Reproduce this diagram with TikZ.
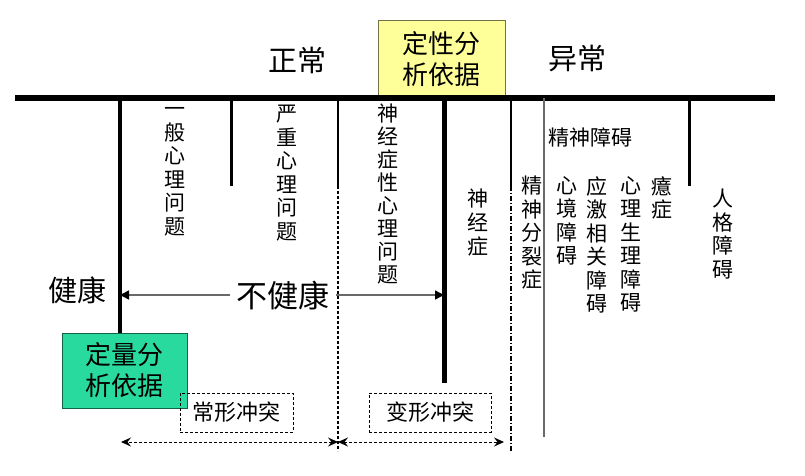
\documentclass[tikz,border=0pt]{standalone}
\usepackage{fontspec}
\setmainfont{Noto Sans CJK SC}
\usetikzlibrary{arrows.meta}
\definecolor{basisyellow}{RGB}{255,255,153}
\definecolor{basisgreen}{RGB}{40,218,158}
\definecolor{arrowgray}{RGB}{105,105,105}

\begin{document}
\begin{tikzpicture}[x=1pt,y=-1pt,
    every node/.style={inner sep=0pt,font=\fontsize{21}{23.5}\selectfont},
    vlabel/.style={align=center,anchor=north},
    bigword/.style={font=\fontsize{29}{31}\selectfont},
    basisbox/.style={draw=#1!45!black,fill=#1,align=center,
      font=\fontsize{26}{31}\selectfont},
    conflictbox/.style={draw,densely dashed,line width=0.8pt,
      minimum height=39pt,font=\fontsize{22}{24}\selectfont},
    spanarrow/.style={densely dashed,line width=0.9pt,
      {Stealth[length=10pt,width=9pt,inset=3.5pt]}-{Stealth[length=10pt,width=9pt,inset=3.5pt]}},
    healtharrow/.style={arrowgray,line width=1.4pt,
      -{Triangle[length=9pt,width=9pt,color=black]}}]
  \useasboundingbox (0,0) rectangle (805,475);

  % scale across the top
  \node[basisbox=basisyellow,minimum width=127pt,minimum height=78pt]
    (qual) at (441.5,59) {定性分\\析依据};
  \coordinate (axisL) at (15,98);
  \coordinate (axisR) at (775,98);
  \draw[line width=6pt] (axisL) -- (axisR);
  \node[bigword] (normal) at (297,60) {正常};
  \node[bigword] (abnormal) at (577,59) {异常};

  % dividers
  \coordinate (healthy) at (120,333);
  \coordinate (neurosis) at (444,383);
  \draw[line width=4.5pt] (healthy |- axisL) -- (healthy);
  \draw[line width=5pt] (neurosis |- axisL) -- (neurosis);
  \foreach \x/\w in {231/3pt,338/2.4pt,511/2.4pt,689/3pt}
    \draw[line width=\w] (\x,98) -- (\x,186);
  \draw[line width=1.2pt,dash pattern=on 2.5pt off 2.5pt] (338,186) -- (338,451);
  \draw[line width=1.2pt,dash pattern=on 5pt off 2pt on 1pt off 2pt] (511,186) -- (511,451);
  \draw[arrowgray,line width=1.6pt] (544,98) -- (544,437);

  % problem labels
  \node[vlabel] (common) at (175,99) {\vphantom{般}一\\般\\心\\理\\问\\题};
  \node[vlabel] (severe) at (287,105) {严\\重\\心\\理\\问\\题};
  \node[vlabel,font=\fontsize{21}{23}\selectfont] (neurotic) at (388,104)
    {神\\经\\症\\性\\心\\理\\问\\题};
  \node[vlabel,font=\fontsize{21}{24}\selectfont] (neur) at (478,189) {神\\经\\症};
  \node (mental) at (590,137) {精神障碍};
  \foreach \x/\txt in {532/精\\神\\分\\裂\\症,567/心\\境\\障\\碍,
      597/应\\激\\相\\关\\障\\碍,631/心\\理\\生\\理\\障\\碍,662/癔\\症}
    \node[vlabel] at (\x,176) {\txt};
  \node[vlabel] (personality) at (723,189) {人\\格\\障\\碍};

  % health range
  \node[bigword] (health) at (77,290) {健康};
  \node[bigword,font=\fontsize{31}{33}\selectfont] (unhealthy) at (283,296) {不健康};
  \draw[healtharrow] ([xshift=-6pt]unhealthy.west |- 0,295) -- (healthy |- 0,295);
  \draw[healtharrow] ([xshift=6pt]unhealthy.east |- 0,295) -- (neurosis |- 0,295);

  \node[basisbox=basisgreen,minimum width=125pt,minimum height=75pt]
    (quant) at (124.5,370.5) {定量分\\析依据};

  % conflicts
  \node[conflictbox,minimum width=113pt] (normconf) at (236.5,412.5) {常形冲突};
  \node[conflictbox,minimum width=122pt] (deformconf) at (430,412.5) {变形冲突};
  \coordinate (spanL) at (121,442);
  \coordinate (spanM) at (338,442);
  \coordinate (spanR) at (504,442);
  \draw[spanarrow] (spanM) -- (spanL);
  \draw[spanarrow] (spanM) -- (spanR);
\end{tikzpicture}
\end{document}
